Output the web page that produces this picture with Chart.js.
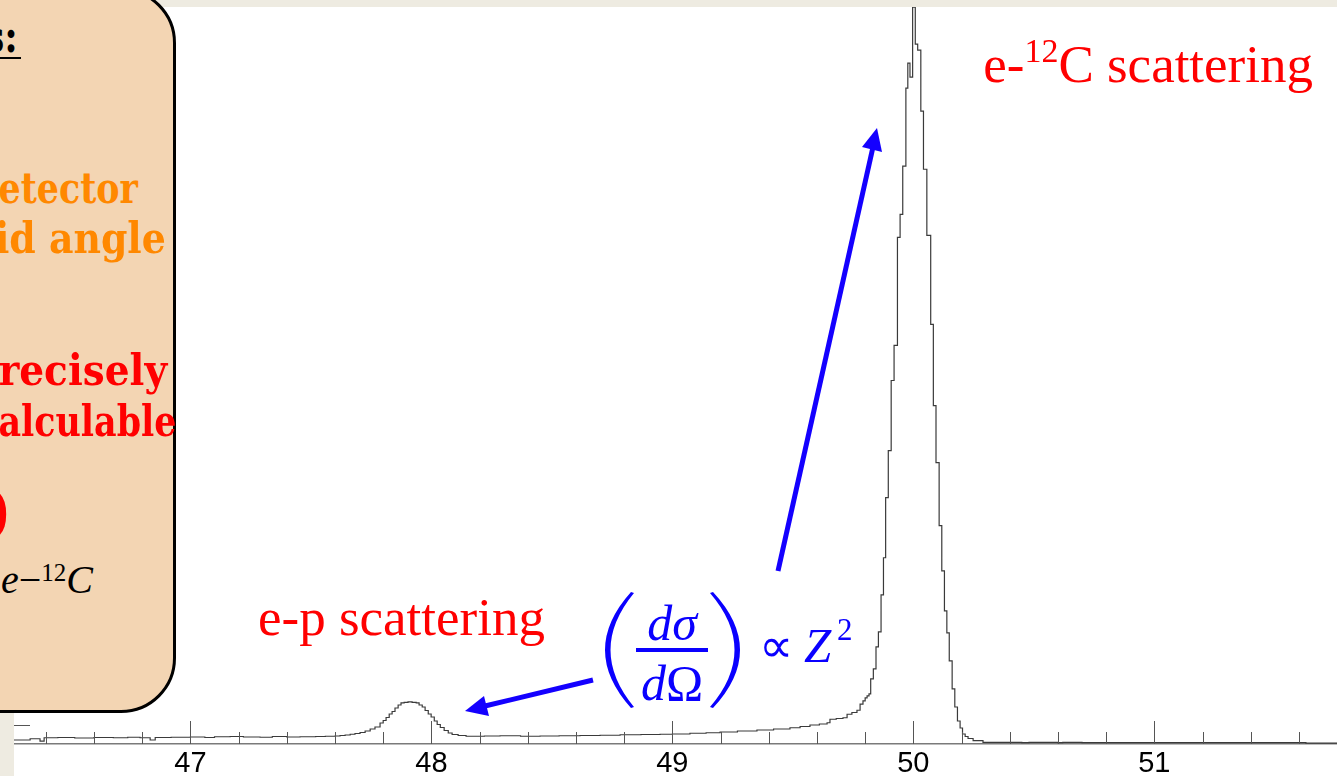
<!DOCTYPE html>
<html>
<head>
<meta charset="utf-8">
<script src="https://cdn.jsdelivr.net/npm/chart.js@4.4.0/dist/chart.umd.min.js"></script>
<style>
  html, body { margin: 0; padding: 0; }
  body { width: 1337px; height: 776px; overflow: hidden; position: relative; background: #eeebe1; }
  #plot { position: absolute; left: 14px; top: 7px; width: 1323px; height: 769px; background: #fff; overflow: hidden; }
  .t { position: absolute; white-space: nowrap; line-height: 1; }
  .serif { font-family: "Liberation Serif", "Times New Roman", serif; }
  .bold { font-family: "DejaVu Serif", serif; font-weight: bold; font-size: 42px;
          transform: scaleX(0.83); transform-origin: right center; }
  #box { position: absolute; left: -200px; top: -12px; width: 370px; height: 719px;
         background: #f3d5b3; border: 3px solid #000; border-radius: 55px; }
  .blue { color: #0a00ff; }
</style>
</head>
<body>
<div id="plot"><canvas id="c" width="1323" height="776"></canvas></div>

<div id="box"></div>
<div class="t bold" style="right:1316px; top:18px; font-size:44px; color:#000; line-height:0.88; border-bottom:2px solid #000; padding-right:4px;">s:</div>
<div class="t bold" style="right:1199px; top:168px; color:#ff8800;">etector</div>
<div class="t bold" style="right:1171px; top:218px; color:#ff8800; transform:scaleX(0.9);">id angle</div>
<div class="t bold" style="right:1170px; top:350px; color:#ff0000; transform:scaleX(0.93);">recisely</div>
<div class="t bold" style="right:1161px; top:401px; color:#ff0000;">alculable</div>
<div class="t serif" style="right:1328px; top:477px; font-size:62px; font-weight:bold; color:#ff0000;">)</div>
<div class="t serif" style="right:1244px; top:560px; font-size:40px; color:#000;"><i>e</i>−<span style="position:relative; top:-12px; font-size:25px;">12</span><i>C</i></div>

<div class="t serif" style="right:24px; top:38px; font-size:53px; color:#ff0000;">e-<span style="position:relative; top:-20px; font-size:34px;">12</span>C scattering</div>
<div class="t serif" style="left:258px; top:591px; font-size:53px; color:#ff0000;">e-p scattering</div>

<div class="t serif blue" style="left:622px; width:100px; text-align:center; top:598px; font-size:50px;"><i>dσ</i></div>
<div style="position:absolute; left:636px; top:648px; width:72px; height:4px; background:#0a00ff;"></div>
<div class="t serif blue" style="left:622px; width:100px; text-align:center; top:658px; font-size:50px;"><i>d</i>Ω</div>
<div class="t serif blue" style="left:759px; top:622px; font-size:48px;">∝</div>
<div class="t serif blue" style="left:804px; top:621px; font-size:49px;"><i>Z</i></div>
<div class="t serif blue" style="left:837px; top:614px; font-size:31px;">2</div>

<svg width="1337" height="776" style="position:absolute; left:0; top:0; pointer-events:none;">
  <g fill="#0a00ff">
    <path d="M631 592 Q579 650 631 708 L634 707 Q587 650 634 593 Z"/>
    <path d="M713 592 Q767 650 713 708 L710 707 Q759 650 710 593 Z"/>
  </g>
  <g stroke="#1400ff" stroke-width="5" fill="#1400ff">
    <line x1="778" y1="571" x2="873" y2="147"/>
    <polygon stroke="none" points="877,128 862,147 882,152"/>
    <line x1="593" y1="680" x2="485" y2="706"/>
    <polygon stroke="none" points="465,711 489,716 484,696"/>
  </g>
</svg>

<script>
// histogram: left edge of each bin (only where the height changes) and its height
var binEdges = [
  46.268, 46.335, 46.376, 46.393, 46.45, 46.52, 46.60, 46.68, 46.74, 46.791,
  46.833, 46.854, 46.92, 47.00, 47.06, 47.10, 47.165, 47.22, 47.289, 47.34,
  47.40, 47.455, 47.52, 47.56, 47.600, 47.621, 47.642, 47.663, 47.683, 47.704,
  47.725, 47.746, 47.766, 47.787, 47.800, 47.812, 47.825, 47.837, 47.849, 47.862,
  47.874, 47.887, 47.903, 47.920, 47.937, 47.949, 47.962, 47.974, 47.987, 47.999,
  48.012, 48.024, 48.037, 48.053, 48.070, 48.086, 48.111, 48.144, 48.22, 48.285,
  48.37, 48.451, 48.53, 48.617, 48.70, 48.783, 48.87, 48.949, 49.00, 49.073,
  49.14, 49.198, 49.27, 49.351, 49.42, 49.488, 49.53, 49.571, 49.61, 49.642,
  49.654, 49.68, 49.708, 49.725, 49.745, 49.766, 49.779, 49.791, 49.800, 49.808,
  49.816, 49.823, 49.834, 49.845, 49.855, 49.866, 49.876, 49.885, 49.896, 49.908,
  49.920, 49.934, 49.945, 49.956, 49.969, 49.977, 49.986, 49.997, 50.008, 50.018,
  50.031, 50.042, 50.056, 50.072, 50.083, 50.094, 50.107, 50.118, 50.129, 50.139,
  50.149, 50.161, 50.172, 50.183, 50.194, 50.204, 50.215, 50.227, 50.248, 50.289,
  50.45, 50.48, 50.60, 50.62, 50.70, 51.629, 51.758
];
var counts = [
  16, 21, 12, 25, 26, 24, 26, 25, 27, 25,
  16, 26, 27, 28, 26, 29, 30, 28, 27, 30,
  28, 29, 30, 31, 32, 34, 36, 39, 42, 46,
  52, 60, 68, 84, 94, 106, 120, 130, 144, 156,
  164, 166, 168, 166, 164, 156, 148, 134, 120, 108,
  92, 78, 66, 54, 44, 38, 34, 31, 32, 33,
  31, 32, 33, 34, 35, 37, 38, 39, 40, 43,
  45, 48, 52, 56, 60, 65, 70, 76, 80, 85,
  99, 102, 105, 119, 126, 135, 159, 172, 184, 192,
  200, 260, 300, 388, 448, 596, 744, 984, 1172, 1452,
  1592, 2024, 2116, 2308, 2620, 2720, 2664, 2943, 2796, 2772,
  2528, 2296, 2032, 1676, 1352, 1124, 872, 692, 532, 444,
  332, 220, 148, 92, 64, 40, 30, 22, 14, 7,
  6, 7, 6, 7, 6, 4, 4
];
var majorTicks = [47, 48, 49, 50, 51];
var minorTicks = [46.4, 46.6, 46.8, 47.2, 47.4, 47.6, 47.8, 48.2, 48.4, 48.6, 48.8,
  49.2, 49.4, 49.6, 49.8, 50.2, 50.4, 50.6, 50.8, 51.2, 51.4, 51.6];
var yTicks = [75];

var xMin = 46.268, xMax = 51.758, yMax = 2944;

var points = binEdges.map(function (x, i) { return { x: x, y: counts[i] }; });

// ticks drawn inward, the way the original plot has them
var innerTicks = {
  id: 'innerTicks',
  afterDatasetsDraw: function (chart) {
    var ctx = chart.ctx, xs = chart.scales.x, ys = chart.scales.y;
    var bottom = chart.chartArea.bottom, left = chart.chartArea.left;
    ctx.save();
    ctx.strokeStyle = '#555';
    ctx.lineWidth = 1;
    ctx.beginPath();
    majorTicks.forEach(function (v) {
      var px = Math.round(xs.getPixelForValue(v)) + 0.5;
      ctx.moveTo(px, bottom); ctx.lineTo(px, bottom - 23);
    });
    minorTicks.forEach(function (v) {
      var px = Math.round(xs.getPixelForValue(v)) + 0.5;
      ctx.moveTo(px, bottom); ctx.lineTo(px, bottom - 12);
    });
    yTicks.forEach(function (v) {
      var py = Math.round(ys.getPixelForValue(v)) + 0.5;
      ctx.moveTo(left, py); ctx.lineTo(left + 16, py);
    });
    ctx.stroke();
    ctx.restore();
  }
};

new Chart(document.getElementById('c'), {
  type: 'line',
  data: {
    datasets: [{
      data: points,
      stepped: true,
      borderColor: '#3a3a3a',
      borderWidth: 1.2,
      pointRadius: 0,
      fill: false
    }]
  },
  options: {
    responsive: false,
    animation: false,
    layout: { padding: 0 },
    plugins: { legend: { display: false }, tooltip: { enabled: false } },
    scales: {
      x: {
        type: 'linear',
        min: xMin,
        max: xMax,
        grid: { display: false, drawTicks: false },
        border: { display: true, color: '#7a7a7a', width: 1.5 },
        afterBuildTicks: function (scale) {
          scale.ticks = majorTicks.map(function (v) { return { value: v }; });
        },
        ticks: {
          padding: 6,
          color: '#000',
          font: { family: '"Liberation Sans", Arial, sans-serif', size: 29, lineHeight: 0.93 },
          callback: function (v) { return String(v); }
        }
      },
      y: {
        display: false,
        min: 0,
        max: yMax
      }
    }
  },
  plugins: [innerTicks]
});
</script>
</body>
</html>
